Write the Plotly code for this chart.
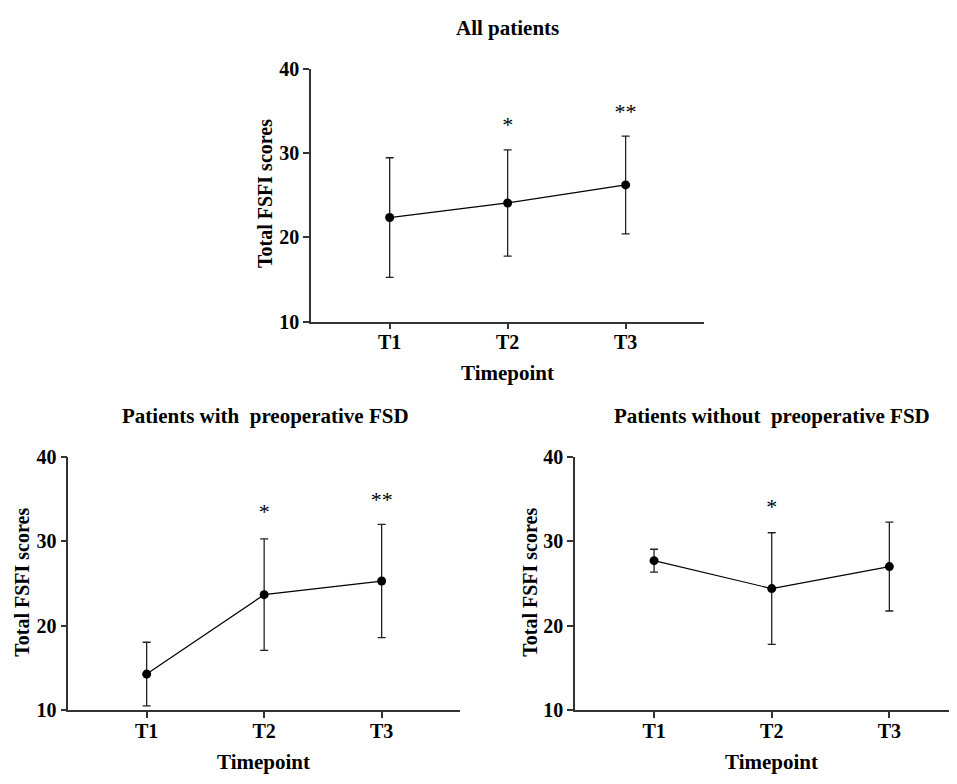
import plotly.graph_objects as go

timepoints = ["T1", "T2", "T3"]

all_mean = [22.35, 24.08, 26.22]
all_sd = [7.1, 6.3, 5.8]
all_stars = ["", "*", "**"]
all_star_y = [None, 33.1, 34.7]

fsd_mean = [14.29, 23.68, 25.29]
fsd_sd = [3.76, 6.6, 6.7]
fsd_stars = ["", "*", "**"]
fsd_star_y = [None, 33.3, 34.65]

nofsd_mean = [27.7, 24.4, 27.0]
nofsd_sd = [1.35, 6.6, 5.25]
nofsd_stars = ["", "*", ""]
nofsd_star_y = [None, 33.9, None]

y_ticks = [10, 20, 30, 40]

titles = ["All patients", "Patients with \u00a0preoperative FSD", "Patients without \u00a0preoperative FSD"]

FONT = "Liberation Serif"
W, H = 957, 784
OFF = 8  # page body margin

fig = go.Figure()

panels = [
    (all_mean, all_sd, all_stars, all_star_y, "x", "y"),
    (fsd_mean, fsd_sd, fsd_stars, fsd_star_y, "x2", "y2"),
    (nofsd_mean, nofsd_sd, nofsd_stars, nofsd_star_y, "x3", "y3"),
]
idx = [0, 1, 2]
for mean, sd, stars, star_y, xa, ya in panels:
    fig.add_trace(go.Scatter(
        x=idx, y=mean, mode="lines+markers",
        line=dict(color="black", width=1.2),
        marker=dict(color="black", size=9),
        error_y=dict(type="data", array=sd, visible=True, color="#222", thickness=1.3, width=4),
        xaxis=xa, yaxis=ya, showlegend=False, cliponaxis=False,
    ))
    sx = [i for i, s in zip(idx, stars) if s]
    sy = [v for s, v in zip(stars, star_y) if s]
    st = [s for s in stars if s]
    fig.add_trace(go.Scatter(
        x=sx, y=sy, mode="text", text=st,
        textfont=dict(family=FONT, size=22, color="black"),
        xaxis=xa, yaxis=ya, showlegend=False, cliponaxis=False,
    ))

def px_x(v):
    return (v - OFF) / W

def px_y(v):
    return 1 - (v - OFF) / H

axis_common = dict(
    showgrid=False, zeroline=False, showline=True, linecolor="#333", linewidth=1.6,
    ticks="outside", ticklen=6, tickwidth=1.6, tickcolor="#333",
    tickfont=dict(family=FONT, size=20, color="black"),
)

geo = [
    dict(x0=311, x1=704.3, y0=59.3, y1=319.3, rng=[-0.667, 2.667]),
    dict(x0=68.3, x1=460, y0=458.3, y1=719.3, rng=[-0.667, 2.667]),
    dict(x0=575, x1=957, y0=458.3, y1=719.3, rng=[-0.672, 2.575]),
]
names = [("xaxis", "yaxis", "y", "x"), ("xaxis2", "yaxis2", "y2", "x2"), ("xaxis3", "yaxis3", "y3", "x3")]
layout = {}
for g, (xn, yn, yref, xref) in zip(geo, names):
    layout[xn] = dict(axis_common, domain=[px_x(g["x0"]), min(1.0, px_x(g["x1"]))], range=g["rng"],
                      tickmode="array", tickvals=idx, ticktext=["<b>%s</b>" % t for t in timepoints],
                      anchor=yref, ticklabelstandoff=-4)
    layout[yn] = dict(axis_common, domain=[px_y(g["y1"]), px_y(g["y0"])], range=[10, 40],
                      tickmode="array", tickvals=y_ticks, ticktext=["<b>%d</b>" % v for v in y_ticks],
                      anchor=xref, ticklabelstandoff=0)

fig.update_layout(**layout)

annotations = []
title_pos = [(507, 17), (265, 416), (772, 416)]
for t, (tx, ty) in zip(titles, title_pos):
    annotations.append(dict(text="<b>%s</b>" % t, x=px_x(tx), y=px_y(ty), xref="paper", yref="paper",
                            showarrow=False, xanchor="center", yanchor="middle",
                            font=dict(family=FONT, size=21, color="black")))
xt_pos = [(507, 372), (263, 772), (771, 772)]
for tx, ty in xt_pos:
    annotations.append(dict(text="<b>Timepoint</b>", x=px_x(tx), y=px_y(ty), xref="paper", yref="paper",
                            showarrow=False, xanchor="center", yanchor="middle",
                            font=dict(family=FONT, size=21, color="black")))
yt_pos = [(265, 188), (22, 588), (530, 588)]
for tx, ty in yt_pos:
    annotations.append(dict(text="<b>Total FSFI scores</b>", x=px_x(tx), y=px_y(ty), xref="paper", yref="paper",
                            showarrow=False, xanchor="center", yanchor="middle", textangle=-90,
                            font=dict(family=FONT, size=20, color="black")))

fig.update_layout(
    width=W, height=H, margin=dict(l=0, r=0, t=0, b=0),
    plot_bgcolor="white", paper_bgcolor="white",
    annotations=annotations, showlegend=False,
)

fig.write_html("out.html")
